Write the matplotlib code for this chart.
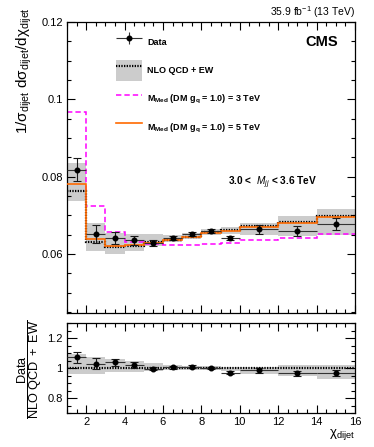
import numpy as np
import matplotlib
matplotlib.use("Agg")
import matplotlib.pyplot as plt
from matplotlib.ticker import MultipleLocator, FuncFormatter
from matplotlib.patches import Patch
from matplotlib.lines import Line2D
from matplotlib.legend_handler import HandlerErrorbar, HandlerTuple

plt.rcParams["font.family"] = ["Liberation Sans", "DejaVu Sans"]
plt.rcParams["mathtext.fontset"] = "custom"
plt.rcParams["mathtext.rm"] = "Liberation Sans"
plt.rcParams["mathtext.it"] = "Liberation Sans:italic"
plt.rcParams["mathtext.bf"] = "Liberation Sans:bold"

# chi_dijet bins
edges = np.array([1, 2, 3, 4, 5, 6, 7, 8, 9, 10, 12, 14, 16])

data = np.array([0.0818, 0.0651, 0.0642, 0.0636, 0.0629, 0.0642,
                 0.0652, 0.0659, 0.0642, 0.0664, 0.0660, 0.0678])
data_err = np.array([0.0030, 0.0023, 0.0016, 0.0012, 0.0008, 0.0006,
                     0.0006, 0.0005, 0.0006, 0.0012, 0.0012, 0.0015])

nlo = np.array([0.0763, 0.0632, 0.0618, 0.0622, 0.0630, 0.0637,
                0.0645, 0.0657, 0.0662, 0.0673, 0.0683, 0.0699])
# relative uncertainty of the prediction
nlo_up = np.array([0.095, 0.078, 0.060, 0.046, 0.035, 0.020,
                   0.015, 0.013, 0.011, 0.012, 0.024, 0.025])
nlo_down = np.array([0.035, 0.037, 0.027, 0.022, 0.016, 0.010,
                     0.010, 0.010, 0.015, 0.035, 0.054, 0.072])

dm_3tev = np.array([0.0966, 0.0725, 0.0658, 0.0631, 0.0625, 0.0623,
                    0.0623, 0.0627, 0.0628, 0.0636, 0.0641, 0.0653])
dm_5tev = np.array([0.0781, 0.0638, 0.0621, 0.0624, 0.0628, 0.0636,
                    0.0644, 0.0654, 0.0660, 0.0670, 0.0680, 0.0695])

centers = 0.5 * (edges[1:] + edges[:-1])
halfw = 0.5 * (edges[1:] - edges[:-1])
ratio = data / nlo
ratio_err = data_err / nlo

fig = plt.figure(figsize=(3.74, 4.47), dpi=100)
ax = fig.add_axes([0.179, 0.300, 0.770, 0.651])
ax2 = fig.add_axes([0.179, 0.0754, 0.770, 0.2013])

band_col = "#cccccc"
ecol = "#1a1a1a"
dots = (0, (0.6, 0.6))

# ---- top panel
ax.stairs(nlo * (1 + nlo_up), edges, baseline=nlo * (1 - nlo_down),
          fill=True, color=band_col, lw=0, zorder=1)
ax.stairs(dm_3tev, edges, baseline=None, color="#ff00ff", lw=1.1,
          ls=(0, (3.5, 2)), zorder=2)
ax.stairs(nlo, edges, baseline=None, color="black", lw=1.6, ls=dots, zorder=3)
ax.stairs(dm_5tev, edges, baseline=None, color="#ff6a00", lw=1.2, zorder=4)
ax.errorbar(centers, data, xerr=halfw, fmt="none", ecolor="#333333",
            elinewidth=0.8, capsize=0, zorder=5)
ax.errorbar(centers, data, yerr=data_err, fmt="o", ms=3.3, color="black",
            ecolor=ecol, elinewidth=0.8, capsize=2.8, capthick=0.8, zorder=6)
# capless proxy for the legend entry
eb_leg = ax.errorbar([np.nan], [np.nan], xerr=[1], yerr=[1], fmt="o", ms=3.3,
                     color="black", ecolor="#333333", elinewidth=0.8, capsize=0)

ax.set_xlim(1, 16)
ax.set_ylim(0.0448, 0.12)

# ---- ratio panel
ax2.stairs(1 + nlo_up, edges, baseline=1 - nlo_down, fill=True,
           color=band_col, lw=0, zorder=1)
ax2.axhline(1.0, color="black", lw=1.6, ls=dots, zorder=2)
ax2.errorbar(centers, ratio, xerr=halfw, fmt="none", ecolor="#333333",
             elinewidth=0.8, capsize=0, zorder=3)
ax2.errorbar(centers, ratio, yerr=ratio_err, fmt="o", ms=3.3, color="black",
             ecolor=ecol, elinewidth=0.8, capsize=2.8, capthick=0.8, zorder=4)
ax2.set_xlim(1, 16)
ax2.set_ylim(0.7, 1.3)

fmt = FuncFormatter(lambda v, p: f"{round(v, 6):g}")
for a in (ax, ax2):
    a.xaxis.set_major_locator(MultipleLocator(2))
    a.xaxis.set_minor_locator(MultipleLocator(0.5))
    a.tick_params(which="both", direction="in", top=True, right=True,
                  labelsize=8, width=0.8, pad=3)
    a.tick_params(which="major", length=6)
    a.tick_params(which="minor", length=3)
    a.yaxis.set_major_formatter(fmt)
    for s in a.spines.values():
        s.set_linewidth(0.9)

ax.yaxis.set_major_locator(MultipleLocator(0.02))
ax.yaxis.set_minor_locator(MultipleLocator(0.005))
ax.tick_params(labelbottom=False)
ax2.yaxis.set_major_locator(MultipleLocator(0.2))
ax2.yaxis.set_minor_locator(MultipleLocator(0.05))
ax2.tick_params(axis="y", which="major", length=7)

# axis titles
fig.text(0.064, 0.983,
         "1/σ$_{\\mathrm{dijet}}$ dσ$_{\\mathrm{dijet}}$/dχ$_{\\mathrm{dijet}}$",
         rotation=90, ha="center", va="top", fontsize=11)
fig.text(0.079, 0.173, r"$\dfrac{\mathrm{Data}}{\mathrm{NLO\ QCD\ +\ EW}}$",
         rotation=90, ha="center", va="center", fontsize=9.2)
ax2.set_xlabel("χ$_{\\mathrm{dijet}}$", fontsize=9.5, loc="right", labelpad=0)

# ---- texts
ax.text(1.0, 1.008, "35.9 fb$^{-1}$ (13 TeV)", transform=ax.transAxes,
        ha="right", va="bottom", fontsize=7.5)
ax.text(0.94, 0.931, "CMS", transform=ax.transAxes, ha="right", va="center",
        fontsize=10.5, fontweight="bold")
ax.text(0.559, 0.446, r"3.0 <  $\mathit{M}_{\mathit{jj}}$ < 3.6 TeV",
        transform=ax.transAxes, ha="left", va="center", fontsize=7.3,
        fontweight="bold")

# ---- legend
h_nlo = (Patch(facecolor=band_col, edgecolor="none"),
         Line2D([], [], color="black", lw=1.6, ls=dots))
h_3 = Line2D([], [], color="#ff00ff", lw=1.1, ls=(0, (3.5, 2)))
h_5 = Line2D([], [], color="#ff6a00", lw=1.2)
labels = ["Data", "NLO QCD + EW",
          r"M$_{\mathbf{Med}}$ (DM g$_{\mathbf{q}}$ = 1.0) = 3 TeV",
          r"M$_{\mathbf{Med}}$ (DM g$_{\mathbf{q}}$ = 1.0) = 5 TeV"]
leg = ax.legend([eb_leg, h_nlo, h_3, h_5], labels, loc="upper left",
                bbox_to_anchor=(0.17, 0.968), frameon=False, fontsize=6.5,
                handlelength=2.9, handleheight=3.3, labelspacing=0.77,
                handletextpad=0.6, borderpad=0, borderaxespad=0,
                handler_map={type(eb_leg): HandlerErrorbar(xerr_size=1.45, yerr_size=0.7),
                             tuple: HandlerTuple(ndivide=1, pad=0)})
for t in leg.get_texts():
    t.set_fontweight("bold")

fig.savefig("out.png", dpi=100)
